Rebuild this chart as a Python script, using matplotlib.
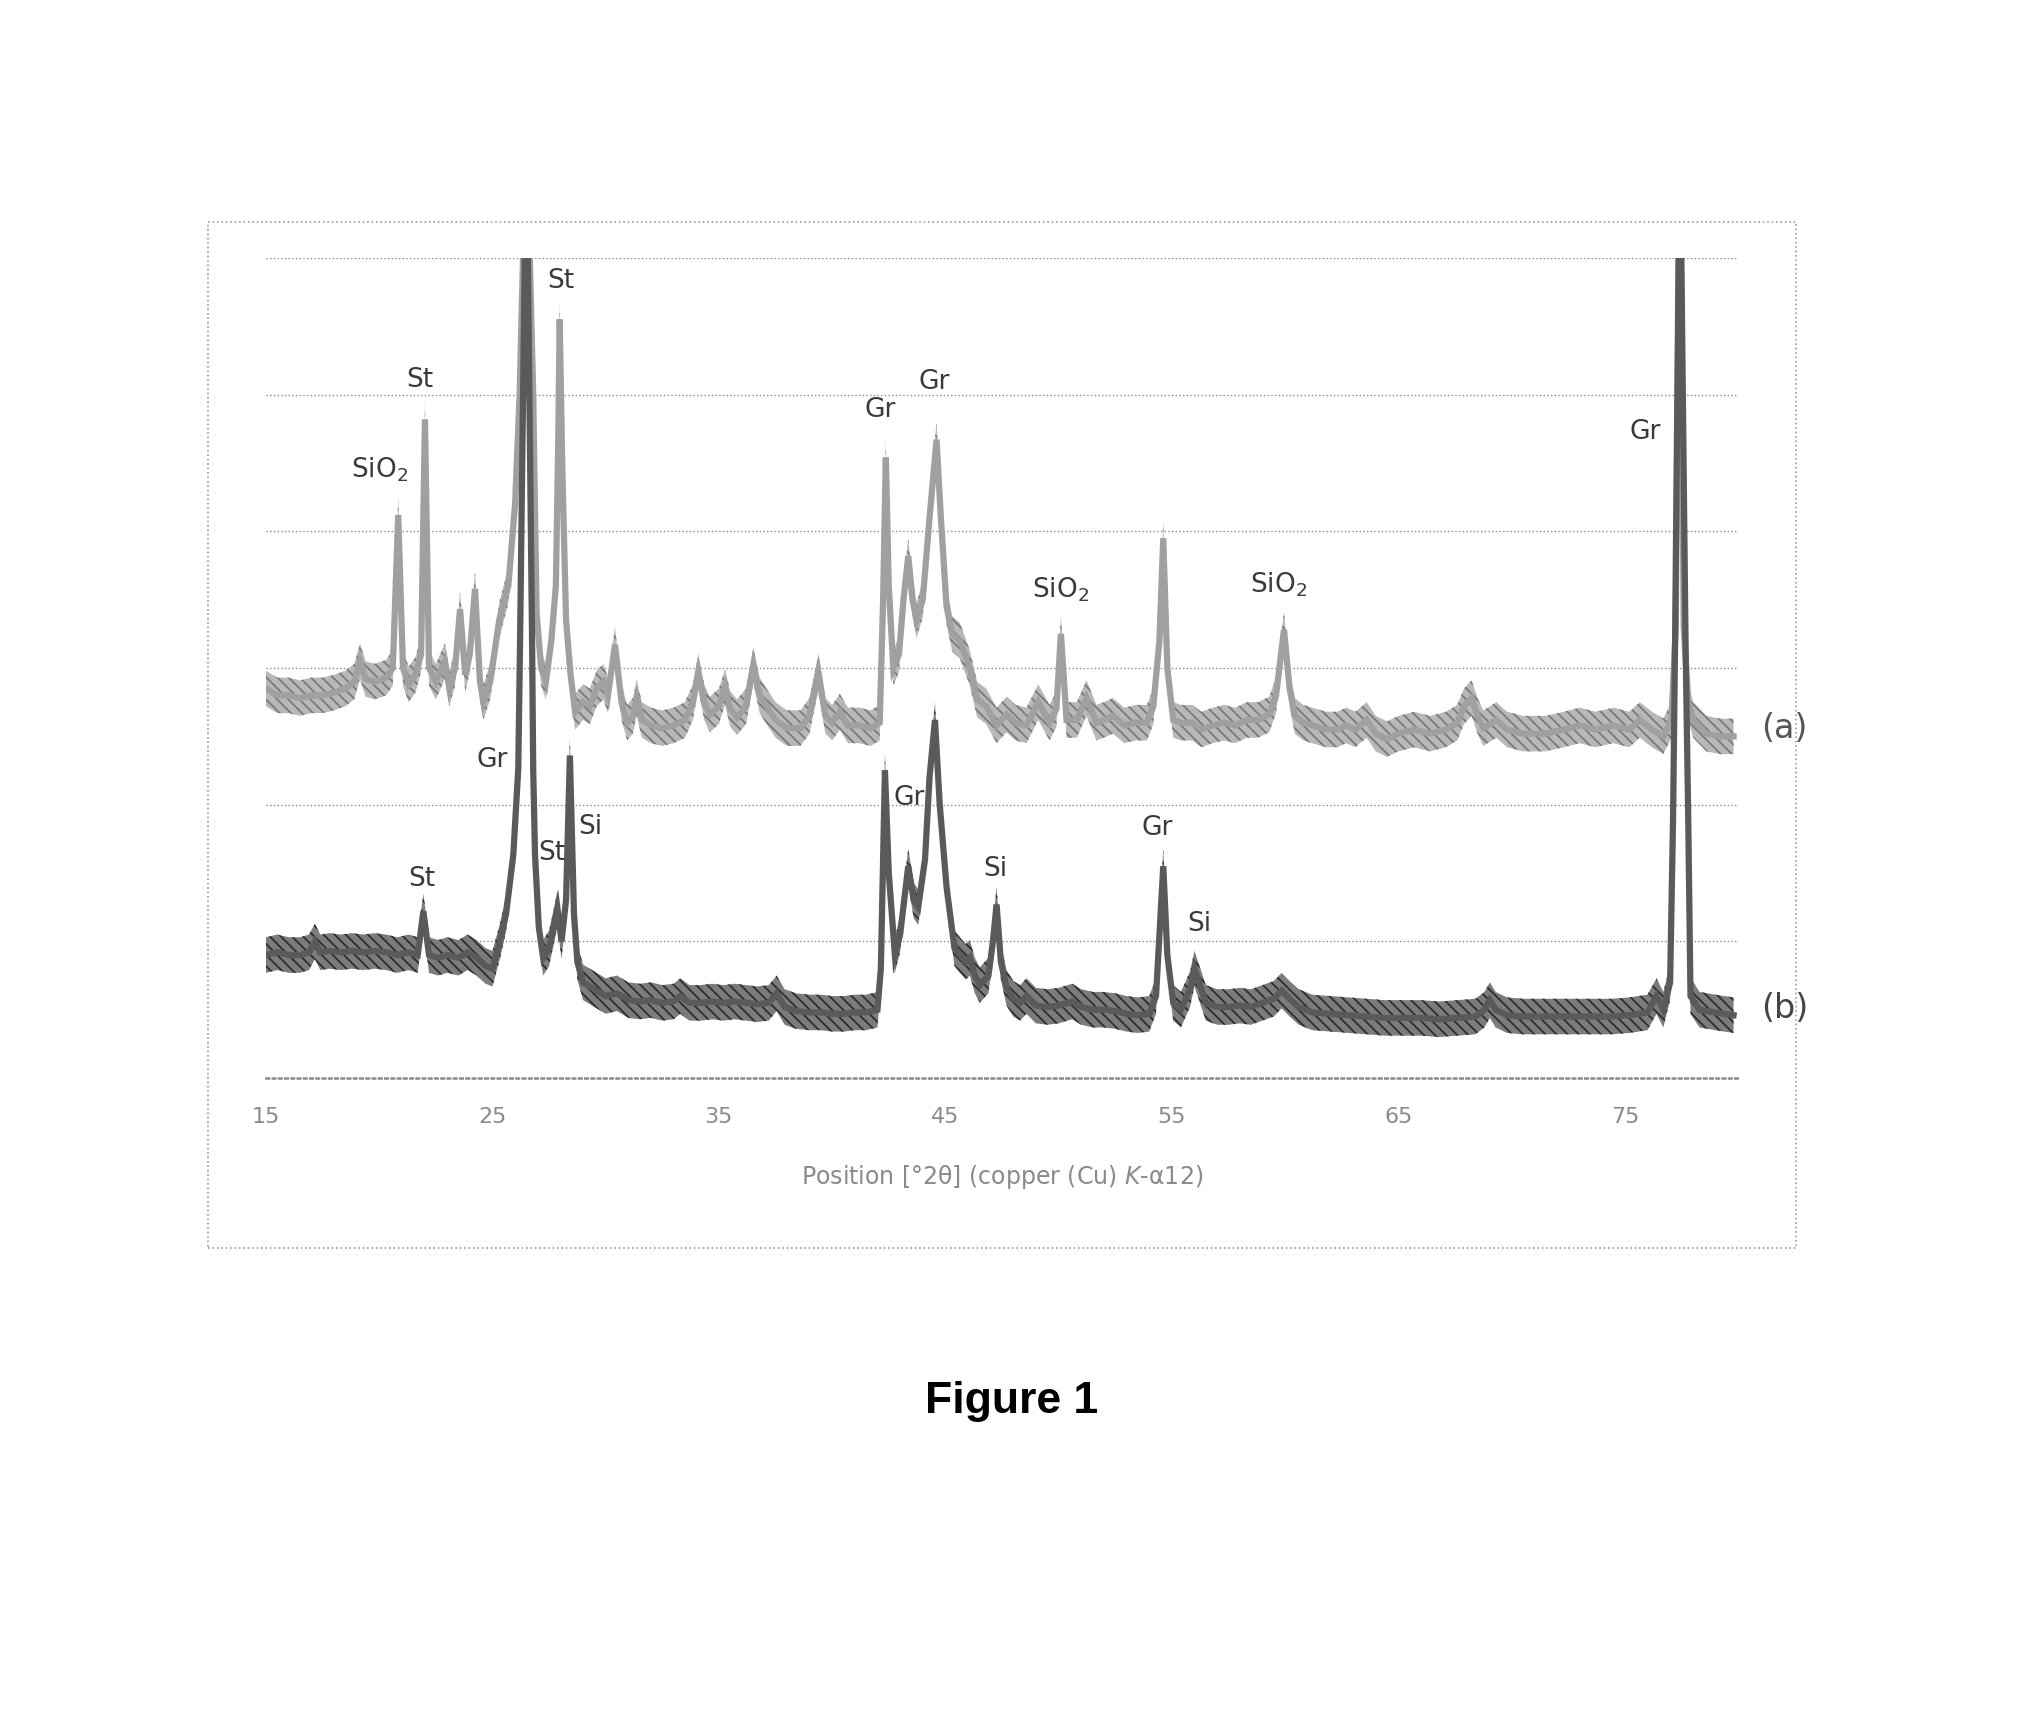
import matplotlib
matplotlib.use("Agg")
import matplotlib.pyplot as plt
from matplotlib.patches import Rectangle

plt.rcParams['font.family'] = ['DejaVu Sans']
plt.rcParams['hatch.linewidth'] = 1.3

# ---- data: trace (a) ----
a_x = [15.0, 15.5, 16.0, 16.5, 17.0, 17.5, 18.0, 18.5, 18.9, 19.15, 19.4, 19.8, 20.3, 20.6,
       20.84, 21.05, 21.3, 21.6, 21.85, 22.02, 22.2, 22.5, 22.9, 23.1, 23.35, 23.57, 23.8,
       24.0, 24.23, 24.45, 24.6, 24.9, 25.3, 25.7, 26.0, 26.2, 26.5, 26.8, 26.95, 27.15,
       27.36, 27.6, 27.8, 27.9, 27.97, 28.08, 28.25, 28.45, 28.65, 29.0, 29.3, 29.6, 29.9,
       30.1, 30.41, 30.7, 30.95, 31.2, 31.37, 31.6, 32.0, 32.5, 33.0, 33.5, 33.85, 34.09,
       34.35, 34.6, 35.0, 35.27, 35.5, 35.8, 36.2, 36.52, 36.8, 37.1, 37.5, 38.0, 38.6,
       39.0, 39.39, 39.7, 40.0, 40.34, 40.7, 41.2, 41.7, 42.1, 42.25, 42.37, 42.5, 42.7,
       42.95, 43.15, 43.36, 43.55, 43.73, 44.0, 44.3, 44.61, 44.8, 45.05, 45.3, 45.64,
       46.08, 46.4, 46.8, 47.26, 47.7, 48.1, 48.58, 49.1, 49.6, 49.9, 50.1, 50.35, 50.8,
       51.23, 51.67, 52.0, 52.4, 52.9, 53.4, 53.9, 54.18, 54.45, 54.62, 54.8, 55.06, 55.4,
       55.9, 56.3, 56.8, 57.3, 57.8, 58.3, 58.8, 59.3, 59.6, 59.95, 60.2, 60.43, 60.8,
       61.2, 61.8, 62.3, 62.7, 63.1, 63.6, 64.0, 64.5, 65.0, 65.7, 66.4, 67.1, 67.6, 67.9,
       68.23, 68.5, 68.75, 69.33, 69.8, 70.5, 71.5, 72.3, 73.0, 73.7, 74.5, 75.2, 75.66,
       76.2, 76.7, 77.06, 77.25, 77.43, 77.6, 77.8, 78.02, 78.6, 79.2, 79.8]
a_y = [2.85, 2.80, 2.80, 2.78, 2.80, 2.80, 2.82, 2.85, 2.90, 3.05, 2.92, 2.90, 2.93, 3.00,
       4.12, 3.00, 2.88, 2.95, 3.10, 4.82, 3.00, 2.90, 3.05, 2.85, 3.00, 3.43, 2.95,
       3.10, 3.58, 2.90, 2.75, 2.90, 3.35, 3.60, 4.20, 5.00, 7.00, 5.00, 3.40, 3.00,
       2.90, 3.20, 3.60, 4.60, 5.55, 4.50, 3.35, 2.95, 2.68, 2.75, 2.72, 2.85, 2.90,
       2.80, 3.17, 2.75, 2.60, 2.65, 2.78, 2.62, 2.58, 2.56, 2.58, 2.62, 2.75, 2.97,
       2.75, 2.66, 2.72, 2.86, 2.70, 2.64, 2.72, 3.02, 2.80, 2.72, 2.62, 2.56, 2.56,
       2.65, 2.97, 2.65, 2.60, 2.68, 2.58, 2.58, 2.56, 2.60, 3.50, 4.54, 3.60, 3.00,
       3.10, 3.50, 3.82, 3.50, 3.35, 3.50, 4.10, 4.67, 4.10, 3.45, 3.25, 3.20,
       3.00, 2.77, 2.72, 2.58, 2.66, 2.60, 2.58, 2.75, 2.60, 2.70, 3.25, 2.62, 2.62,
       2.78, 2.60, 2.62, 2.65, 2.58, 2.60, 2.60, 2.72, 3.20, 3.95, 3.00, 2.62, 2.60,
       2.60, 2.55, 2.58, 2.60, 2.58, 2.62, 2.62, 2.66, 2.80, 3.28, 2.85, 2.65, 2.60,
       2.58, 2.55, 2.55, 2.58, 2.55, 2.62, 2.52, 2.48, 2.52, 2.55, 2.52, 2.55, 2.60, 2.72,
       2.78, 2.65, 2.56, 2.62, 2.55, 2.52, 2.52, 2.55, 2.58, 2.55, 2.58, 2.55, 2.62,
       2.55, 2.50, 2.62, 3.30, 7.00, 3.30, 2.75, 2.62, 2.52, 2.50, 2.50]

# ---- data: trace (b) ----
b_x = [15.0, 15.5, 16.0, 16.5, 16.9, 17.16, 17.4, 17.8, 18.3, 18.8, 19.3, 19.8, 20.3, 20.8,
       21.3, 21.7, 21.95, 22.2, 22.6, 23.0, 23.5, 23.9, 24.3, 24.7, 25.0, 25.33, 25.6,
       25.92, 26.14, 26.22, 26.5, 26.75, 26.8, 26.88, 27.05, 27.24, 27.5, 27.7, 27.87,
       28.05, 28.25, 28.42, 28.6, 28.75, 29.0, 29.5, 30.0, 30.5, 31.0, 31.5, 32.0, 32.5,
       33.0, 33.3, 33.7, 34.2, 34.7, 35.2, 35.7, 36.2, 36.7, 37.2, 37.55, 37.9, 38.4,
       39.0, 39.5, 40.0, 40.5, 41.0, 41.5, 42.0, 42.15, 42.33, 42.5, 42.77, 43.0, 43.36,
       43.6, 43.8, 44.1, 44.3, 44.54, 44.75, 45.05, 45.4, 45.64, 45.9, 46.08, 46.3, 46.52,
       46.9, 47.1, 47.26, 47.45, 47.7, 48.0, 48.3, 48.58, 49.0, 49.5, 50.0, 50.6, 51.0,
       51.5, 52.0, 52.5, 53.0, 53.5, 54.0, 54.3, 54.47, 54.62, 54.8, 55.06, 55.4, 55.8,
       56.0, 56.2, 56.5, 57.0, 57.5, 58.0, 58.5, 59.0, 59.5, 59.85, 60.2, 60.6, 61.2,
       62.0, 62.8, 63.6, 64.4, 65.2, 66.0, 66.8, 67.6, 68.4, 68.8, 69.04, 69.3, 69.8,
       70.5, 71.2, 72.0, 72.8, 73.6, 74.4, 75.2, 76.0, 76.4, 76.7, 77.0, 77.13, 77.22,
       77.43, 77.68, 77.8, 77.9, 78.3, 79.0, 79.8]
b_y = [0.90, 0.92, 0.90, 0.90, 0.92, 1.00, 0.92, 0.93, 0.92, 0.93, 0.92, 0.93, 0.92, 0.90,
       0.92, 0.90, 1.22, 0.90, 0.88, 0.90, 0.88, 0.92, 0.88, 0.82, 0.80, 1.00, 1.20,
       1.63, 2.26, 3.20, 7.00, 3.20, 2.26, 1.63, 1.10, 0.88, 0.95, 1.10, 1.24,
       1.00, 1.30, 2.36, 1.20, 0.85, 0.70, 0.65, 0.60, 0.62, 0.57, 0.56, 0.57, 0.55,
       0.56, 0.60, 0.55, 0.55, 0.56, 0.55, 0.56, 0.55, 0.54, 0.55, 0.62, 0.52, 0.49,
       0.48, 0.48, 0.47, 0.47, 0.48, 0.48, 0.50, 0.80, 2.25, 1.50, 0.90, 1.05, 1.55,
       1.30, 1.25, 1.60, 2.20, 2.62, 2.00, 1.40, 0.95, 0.90, 0.85, 0.88, 0.75, 0.68,
       0.75, 1.00, 1.27, 0.85, 0.66, 0.58, 0.55, 0.60, 0.53, 0.52, 0.53, 0.56, 0.52,
       0.50, 0.50, 0.49, 0.47, 0.46, 0.47, 0.60, 1.10, 1.55, 0.90, 0.55, 0.50, 0.65,
       0.80, 0.70, 0.55, 0.52, 0.52, 0.53, 0.52, 0.55, 0.58, 0.64, 0.58, 0.52, 0.48,
       0.47, 0.46, 0.45, 0.44, 0.44, 0.44, 0.43, 0.44, 0.45, 0.50, 0.57, 0.50, 0.46,
       0.45, 0.45, 0.45, 0.45, 0.45, 0.45, 0.46, 0.48, 0.60, 0.50, 0.70, 1.90, 3.20,
       7.00, 3.20, 1.90, 0.60, 0.50, 0.48, 0.46]

x_ticks = [15, 25, 35, 45, 55, 65, 75]
grid_levels = [1, 2, 3, 4, 5, 6]

peak_labels = ['SiO$_2$', 'St', 'St', 'Gr', 'Gr', 'SiO$_2$', 'SiO$_2$', 'Gr',
               'Gr', 'St', 'St', 'Si', 'Gr', 'Si', 'Gr', 'Si']
peak_lx = [20.0, 21.8, 28.0, 42.1, 44.5, 50.1, 59.7, 75.9,
           25.0, 21.9, 27.6, 29.3, 43.4, 47.2, 54.35, 56.2]
peak_ly = [4.45, 5.11, 5.83, 4.89, 5.09, 3.57, 3.61, 4.73,
           2.33, 1.46, 1.65, 1.84, 2.05, 1.53, 1.83, 1.13]

fig = plt.figure(figsize=(20.21, 17.12), dpi=100)
ax = fig.add_axes([0.1316, 0.3703, 0.7284, 0.479])

# outer dotted frame
fig.patches.append(Rectangle((0.1027, 0.271), 0.786, 0.5993, transform=fig.transFigure,
                             fill=False, ls=':', ec='#9a9a9a', lw=1.2))

band = 0.13
# trace (a): light hatched ribbon
ax.fill_between(a_x, [v - band for v in a_y], [v + band for v in a_y],
                facecolor='#b8b8b8', edgecolor='#7a7a7a', hatch='\\\\\\', lw=0, zorder=3)
ax.plot(a_x, a_y, color='#a0a0a0', lw=4.5, zorder=3, solid_joinstyle='miter')
# trace (b): dark hatched ribbon
ax.fill_between(b_x, [v - band for v in b_y], [v + band for v in b_y],
                facecolor='#7c7c7c', edgecolor='#2e2e2e', hatch='\\\\\\', lw=0, zorder=4)
ax.plot(b_x, b_y, color='#5a5a5a', lw=4.5, zorder=4, solid_joinstyle='miter')

ax.set_xlim(15, 80)
ax.set_ylim(0, 6)
ax.set_yticks(grid_levels)
ax.set_yticklabels([])
ax.tick_params(axis='y', length=0)
ax.grid(axis='y', ls=':', color='#8a8a8a', lw=1.0)
ax.set_xticks(x_ticks)
ax.set_xticklabels([str(t) for t in x_ticks], fontsize=16, color='#8a8a8a')
ax.tick_params(axis='x', length=0, pad=21)
for s in ['left', 'right', 'top']:
    ax.spines[s].set_visible(False)
ax.spines['bottom'].set_linestyle((0, (1, 1.5)))
ax.spines['bottom'].set_color('#8a8a8a')
ax.spines['bottom'].set_linewidth(1.8)

ax.set_xlabel('Position [°2θ] (copper (Cu) $\\mathit{K}$-α12)', fontsize=17, color='#8a8a8a')
ax.xaxis.set_label_coords(0.5, -0.103)

for t, lx, ly in zip(peak_labels, peak_lx, peak_ly):
    ax.text(lx, ly, t, fontsize=19, color='#3a3a3a', ha='center', va='center', zorder=5)

ax.text(82.06, 2.56, '(a)', fontsize=24, color='#555555', ha='center', va='center', clip_on=False)
ax.text(82.06, 0.51, '(b)', fontsize=24, color='#444444', ha='center', va='center', clip_on=False)

fig.text(0.5007, 0.1746, 'Figure 1', fontsize=32, fontweight='bold',
         family=['Liberation Sans', 'DejaVu Sans'], ha='center', va='baseline')

fig.savefig('out.png', dpi=100, facecolor='white')
